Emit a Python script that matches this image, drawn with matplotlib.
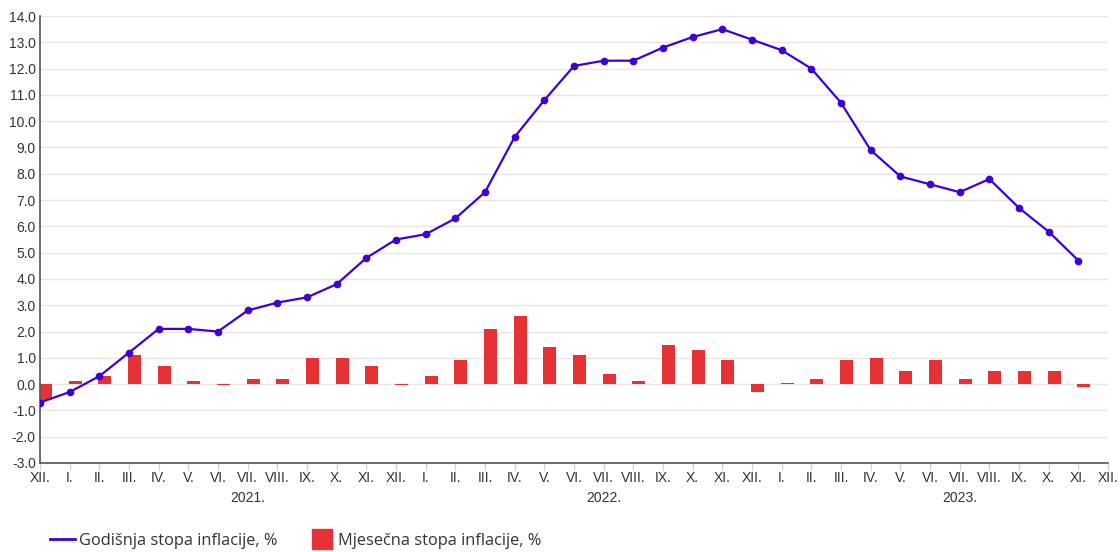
import matplotlib.pyplot as plt
import numpy as np
from matplotlib.lines import Line2D

# month labels on the x axis (XII 2020 .. XII 2023)
months = ['XII.', 'I.', 'II.', 'III.', 'IV.', 'V.', 'VI.', 'VII.', 'VIII.', 'IX.', 'X.', 'XI.',
          'XII.', 'I.', 'II.', 'III.', 'IV.', 'V.', 'VI.', 'VII.', 'VIII.', 'IX.', 'X.', 'XI.',
          'XII.', 'I.', 'II.', 'III.', 'IV.', 'V.', 'VI.', 'VII.', 'VIII.', 'IX.', 'X.', 'XI.',
          'XII.']
years = ['2021.', '2022.', '2023.']

# annual inflation rate, XII 2020 .. XI 2023
annual = [-0.7, -0.3, 0.3, 1.2, 2.1, 2.1, 2.0, 2.8, 3.1, 3.3, 3.8, 4.8,
          5.5, 5.7, 6.3, 7.3, 9.4, 10.8, 12.1, 12.3, 12.3, 12.8, 13.2, 13.5,
          13.1, 12.7, 12.0, 10.7, 8.9, 7.9, 7.6, 7.3, 7.8, 6.7, 5.8, 4.7]

# monthly inflation rate, XII 2020 .. XI 2023
monthly = [-0.6, 0.1, 0.3, 1.1, 0.7, 0.1, -0.05, 0.2, 0.2, 1.0, 1.0, 0.7,
           -0.05, 0.3, 0.9, 2.1, 2.6, 1.4, 1.1, 0.4, 0.1, 1.5, 1.3, 0.9,
           -0.3, 0.05, 0.2, 0.9, 1.0, 0.5, 0.9, 0.2, 0.5, 0.5, 0.5, -0.1]

line_color = '#3f00d8'
bar_color = '#e63234'
tick_font = 'Liberation Sans'

fig = plt.figure(figsize=(11.2, 5.52), dpi=100)
ax = fig.add_axes([40 / 1120, 89 / 552, 1068 / 1120, 447 / 552])

x = np.arange(len(annual))
ax.bar(x - 0.03, monthly, width=0.44, align='edge', color=bar_color, zorder=2)
ax.plot(x, annual, color=line_color, lw=1.6, marker='o', markersize=4.5, zorder=3)

ax.set_xlim(0, len(months) - 1)
ax.set_ylim(-3, 14)
ax.set_yticks(np.arange(-3, 15, 1))
ax.set_yticklabels([f'{v:.1f}' for v in np.arange(-3, 15, 1)],
                   fontname=tick_font, fontsize=10, color='#333333')
ax.set_xticks(np.arange(len(months)))
ax.set_xticklabels(months, fontname=tick_font, fontsize=10, color='#333333')

ax.grid(axis='y', color='#e6e6e6', lw=1, zorder=0)
ax.set_axisbelow(True)
for s in ['top', 'right']:
    ax.spines[s].set_visible(False)
ax.spines['left'].set_color('#555555')
ax.spines['bottom'].set_color('#555555')
ax.spines['left'].set_linewidth(1.2)
ax.spines['bottom'].set_linewidth(1.2)
ax.tick_params(axis='y', length=0, pad=3)
ax.tick_params(axis='x', length=5, color='#cccccc', pad=1)

# year labels centred under each year's months
for i, yr in enumerate(years):
    center = 1 + 12 * i + 6
    ax.text(center, -4.35, yr, ha='center', va='center', fontname=tick_font,
            fontsize=10, color='#333333')

handles = [Line2D([0], [0], color=line_color, lw=2),
           Line2D([0], [0], color=bar_color, marker='s', ls='none', markersize=14)]
fig.legend(handles, ['Godišnja stopa inflacije, %', 'Mjesečna stopa inflacije, %'],
           loc='center left', bbox_to_anchor=(50 / 1120, 11 / 552), ncol=2, frameon=False,
           prop={'family': 'Open Sans', 'size': 11.75}, handlelength=1.55,
           handletextpad=0.25, columnspacing=1.9, borderpad=0, borderaxespad=0,
           labelcolor='#333333')

fig.savefig('out.png', dpi=100)
